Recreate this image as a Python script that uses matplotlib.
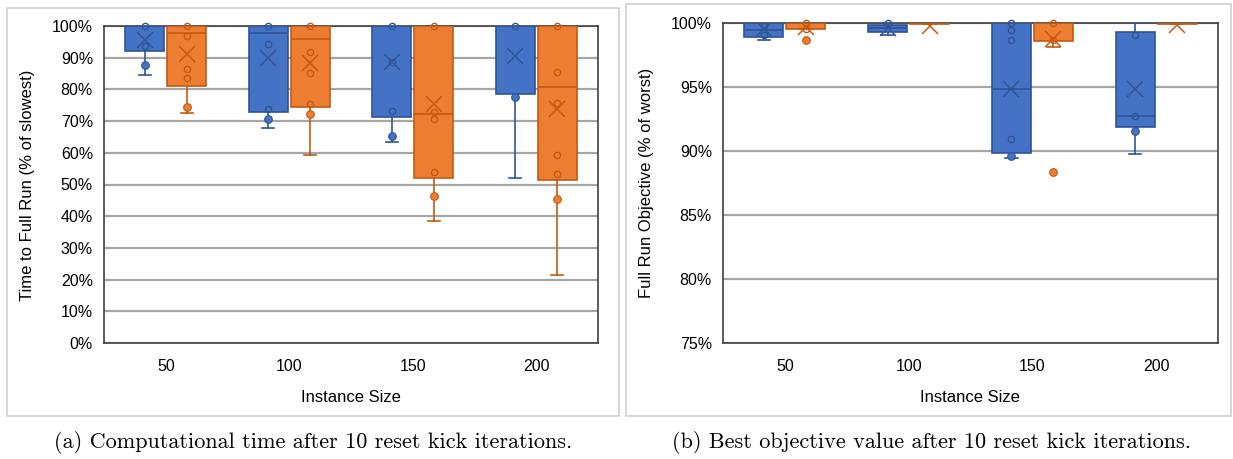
import matplotlib
matplotlib.use('Agg')
import matplotlib.pyplot as plt
from matplotlib.patches import Rectangle
from matplotlib.ticker import FuncFormatter

sizes = ['50', '100', '150', '200']

# (a) time to full run, % of slowest
time_blue_q1 = [92.0, 72.8, 71.3, 78.5]
time_blue_med = [100.0, 97.8, 100.0, 100.0]
time_blue_q3 = [100.0, 100.0, 100.0, 100.0]
time_blue_lo = [84.4, 67.8, 63.5, 51.9]
time_blue_hi = [100.0, 100.0, 100.0, 100.0]
time_blue_mean = [95.7, 90.0, 88.7, 90.6]
time_blue_pts = [[100.0, 93.6], [100.0, 94.4, 73.7], [100.0, 88.7, 73.2], [100.0]]
time_blue_dots = [[87.8], [70.7], [65.3], [77.5]]

time_orange_q1 = [81.2, 74.6, 52.0, 51.3]
time_orange_med = [97.7, 95.8, 72.3, 80.7]
time_orange_q3 = [100.0, 100.0, 100.0, 100.0]
time_orange_lo = [72.7, 59.4, 38.5, 21.3]
time_orange_hi = [100.0, 100.0, 100.0, 100.0]
time_orange_mean = [91.1, 88.3, 75.3, 73.8]
time_orange_pts = [[100.0, 97.0, 86.3, 83.6], [100.0, 91.8, 85.2, 75.4],
                   [100.0, 73.0, 70.7, 53.9], [100.0, 85.4, 75.7, 59.4, 53.4]]
time_orange_dots = [[74.5], [72.3], [46.5], [45.3]]

# (b) full run objective, % of worst
obj_blue_q1 = [98.9, 99.3, 89.87, 91.86]
obj_blue_med = [99.45, 99.58, 94.83, 92.74]
obj_blue_q3 = [100.0, 99.87, 100.0, 99.3]
obj_blue_lo = [98.7, 99.08, 89.48, 89.79]
obj_blue_hi = [100.0, 100.0, 100.0, 100.0]
obj_blue_mean = [99.55, 99.6, 94.83, 94.83]
obj_blue_pts = [[99.75, 99.1], [100.0], [100.0, 99.42, 98.7, 90.94], [99.03, 92.74]]
obj_blue_dots = [[], [], [89.63], [91.57]]

obj_orange_q1 = [99.5, 99.93, 98.58, 99.93]
obj_orange_med = [100.0, 100.0, 100.0, 100.0]
obj_orange_q3 = [100.0, 100.0, 100.0, 100.0]
obj_orange_lo = [99.5, 99.93, 98.12, 99.93]
obj_orange_hi = [100.0, 100.0, 100.0, 100.0]
obj_orange_mean = [99.68, 99.78, 98.75, 99.85]
obj_orange_pts = [[100.0, 99.5], [], [100.0, 98.7], []]
obj_orange_dots = [[98.65], [], [88.38], []]

blue, blue_dk = '#4472C4', '#2F5597'
orange, orange_dk = '#ED7D31', '#C55A11'


def draw_series(ax, off, q1, med, q3, lo, hi, mean, pts, dots, fc, ec):
    stats = []
    for i in range(len(sizes)):
        stats.append(dict(q1=q1[i], med=med[i], q3=q3[i], whislo=lo[i],
                          whishi=hi[i], mean=mean[i], fliers=[]))
    pos = [i + off for i in range(len(sizes))]
    ax.bxp(stats, positions=pos, widths=0.315, capwidths=0.1,
           patch_artist=True, showmeans=True, showfliers=False,
           boxprops=dict(facecolor=fc, edgecolor=ec, linewidth=1.2),
           medianprops=dict(color=ec, linewidth=1.2),
           whiskerprops=dict(color=ec, linewidth=1.2),
           capprops=dict(color=ec, linewidth=1.2),
           meanprops=dict(marker='x', markeredgecolor=ec, markersize=11,
                          markeredgewidth=1.1),
           zorder=3)
    for i in range(len(sizes)):
        ax.plot([pos[i]] * len(pts[i]), pts[i], 'o', ms=4.5, mfc='none',
                mec=ec, mew=1.0, zorder=4, clip_on=False)
        ax.plot([pos[i]] * len(dots[i]), dots[i], 'o', ms=5.5, mfc=fc,
                mec=ec, mew=0.8, zorder=4, clip_on=False)


fig = plt.figure(figsize=(12.33, 4.59), dpi=100)
W, H = 1233.0, 459.0

fig.patches.append(Rectangle((7 / W, 1 - 416 / H), 612 / W, 408 / H,
                             transform=fig.transFigure, fill=False,
                             edgecolor='#D0D0D0', linewidth=1.2))
fig.patches.append(Rectangle((626 / W, 1 - 416 / H), 605 / W, 412 / H,
                             transform=fig.transFigure, fill=False,
                             edgecolor='#D0D0D0', linewidth=1.2))

ax1 = fig.add_axes([104 / W, 1 - 343 / H, 494 / W, 317 / H])
ax2 = fig.add_axes([723 / W, 1 - 343 / H, 495 / W, 320 / H])

draw_series(ax1, -0.17, time_blue_q1, time_blue_med, time_blue_q3, time_blue_lo,
            time_blue_hi, time_blue_mean, time_blue_pts, time_blue_dots, blue, blue_dk)
draw_series(ax1, 0.17, time_orange_q1, time_orange_med, time_orange_q3, time_orange_lo,
            time_orange_hi, time_orange_mean, time_orange_pts, time_orange_dots, orange, orange_dk)
draw_series(ax2, -0.17, obj_blue_q1, obj_blue_med, obj_blue_q3, obj_blue_lo,
            obj_blue_hi, obj_blue_mean, obj_blue_pts, obj_blue_dots, blue, blue_dk)
draw_series(ax2, 0.17, obj_orange_q1, obj_orange_med, obj_orange_q3, obj_orange_lo,
            obj_orange_hi, obj_orange_mean, obj_orange_pts, obj_orange_dots, orange, orange_dk)

pct = FuncFormatter(lambda v, p: '%d%%' % round(v))
for ax, lo, hi, step in [(ax1, 0, 100, 10), (ax2, 75, 100, 5)]:
    ax.set_xlim(-0.5, 3.5)
    ax.set_ylim(lo, hi)
    ax.set_yticks(range(lo, hi + 1, step))
    ax.yaxis.set_major_formatter(pct)
    ax.set_xticks(range(len(sizes)))
    ax.set_xticklabels(sizes)
    ax.grid(axis='y', color='#A6A6A6', linewidth=1.6, zorder=0)
    ax.set_axisbelow(True)
    ax.tick_params(length=0, labelsize=11.5)
    ax.tick_params(axis='y', pad=8)
    ax.tick_params(axis='x', pad=11.5)
    for t in ax.get_xticklabels() + ax.get_yticklabels():
        t.set_fontfamily('Liberation Sans')
    for s in ax.spines.values():
        s.set_color('#404040')
        s.set_linewidth(1.2)

lab = dict(fontsize=12, family='Liberation Sans', ha='center', va='center')
fig.text(28 / W, 1 - 185 / H, 'Time to Full Run (% of slowest)', rotation=90, **lab)
fig.text(351 / W, 1 - 397 / H, 'Instance Size', **lab)
fig.text(647 / W, 1 - 183 / H, 'Full Run Objective (% of worst)', rotation=90, **lab)
fig.text(970 / W, 1 - 397 / H, 'Instance Size', **lab)

cap = dict(fontsize=16, family='cmr10', ha='center', va='center')
fig.text(313 / W, 1 - 442 / H, '(a) Computational time after 10 reset kick iterations.', **cap)
fig.text(931 / W, 1 - 442 / H, '(b) Best objective value after 10 reset kick iterations.', **cap)

fig.savefig('out.png', dpi=100)
